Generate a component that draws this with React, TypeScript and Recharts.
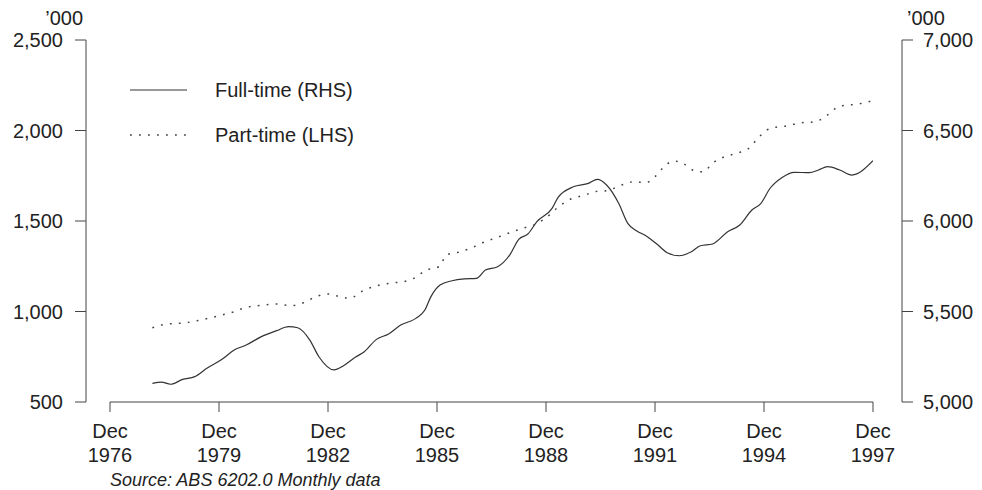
import React from "react";
import { LineChart, Line, XAxis, YAxis, ReferenceLine, Legend } from "recharts";

// Full-time employed ('000, right axis), trend
const fullTimeMonths = [
  "1978-02", "1978-05", "1978-08", "1978-12", "1979-04", "1979-08", "1980-01", "1980-05",
  "1980-09", "1981-02", "1981-07", "1981-11", "1982-02", "1982-06", "1982-09", "1983-02",
  "1983-05", "1983-09", "1983-12", "1984-04", "1984-08", "1984-12", "1985-05", "1985-08",
  "1985-10", "1986-01", "1986-05", "1986-09", "1987-01", "1987-04", "1987-08", "1987-12",
  "1988-03", "1988-06", "1988-09", "1989-02", "1989-04", "1989-09", "1990-02", "1990-05",
  "1990-08", "1990-12", "1991-03", "1991-06", "1991-09", "1992-01", "1992-04", "1992-08",
  "1992-12", "1993-03", "1993-07", "1993-12", "1994-04", "1994-08", "1994-11", "1995-02",
  "1995-06", "1995-10", "1996-03", "1996-06", "1996-09", "1997-01", "1997-05", "1997-12",
];
const fullTimeValues = [
  5103, 5110, 5098, 5125, 5140, 5186, 5236, 5287,
  5315, 5361, 5394, 5416, 5410, 5342, 5250, 5177,
  5199, 5247, 5278, 5346, 5376, 5425, 5462, 5508,
  5582, 5646, 5670, 5680, 5683, 5729, 5747, 5812,
  5899, 5928, 5996, 6070, 6131, 6189, 6208, 6230,
  6199, 6098, 5987, 5945, 5919, 5867, 5825, 5808,
  5830, 5863, 5873, 5941, 5978, 6061, 6098, 6181,
  6241, 6269, 6267, 6282, 6300, 6282, 6254, 6333,
];

// Part-time employed ('000, left axis)
const partTimeMonths = [
  "1978-02", "1978-06", "1979-01", "1979-07", "1980-01", "1980-05", "1980-08", "1981-03",
  "1981-07", "1981-12", "1982-04", "1982-08", "1982-12", "1983-03", "1983-07", "1983-12",
  "1984-04", "1984-10", "1985-01", "1985-05", "1985-08", "1986-01", "1986-03", "1986-07",
  "1986-11", "1987-04", "1987-08", "1988-01", "1988-05", "1988-08", "1988-12", "1989-04",
  "1989-08", "1990-01", "1990-04", "1990-08", "1991-01", "1991-05", "1991-09", "1991-12",
  "1992-03", "1992-06", "1992-08", "1993-01", "1993-04", "1993-07", "1993-11", "1994-03",
  "1994-07", "1994-10", "1995-01", "1995-05", "1995-08", "1995-11", "1996-05", "1996-09",
  "1997-01", "1997-07", "1997-12",
];
const partTimeValues = [
  910, 929, 938, 957, 981, 999, 1018, 1036,
  1041, 1032, 1049, 1082, 1097, 1086, 1073, 1119,
  1142, 1159, 1165, 1189, 1225, 1251, 1312, 1327,
  1349, 1386, 1410, 1441, 1463, 1478, 1518, 1576,
  1620, 1644, 1662, 1667, 1699, 1717, 1712, 1745,
  1800, 1830, 1828, 1778, 1772, 1819, 1855, 1874,
  1902, 1957, 2003, 2021, 2025, 2040, 2049, 2086,
  2135, 2146, 2165,
];

const xTickMonths = ["1976-12", "1979-12", "1982-12", "1985-12", "1988-12", "1991-12", "1994-12", "1997-12"];
const xTickLabels = ["Dec 1976", "Dec 1979", "Dec 1982", "Dec 1985", "Dec 1988", "Dec 1991", "Dec 1994", "Dec 1997"];
const leftTicks = [500, 1000, 1500, 2000, 2500];
const rightTicks = [5000, 5500, 6000, 6500, 7000];

const toYear = (m: string) => {
  const [y, mo] = m.split("-").map(Number);
  return y + (mo - 1) / 12;
};

const fullTimeData = fullTimeMonths.map((m, i) => ({ t: toYear(m), v: fullTimeValues[i] }));
const partTimeData = partTimeMonths.map((m, i) => ({ t: toYear(m), v: partTimeValues[i] }));
const xTicks = xTickMonths.map(toYear);

const textColor = "#222";
const axisColor = "#444";
const fmt = (v: number) => v.toLocaleString("en-US");

const XTick = ({ x, y, payload }: any) => {
  const idx = xTicks.findIndex((t) => Math.abs(t - payload.value) < 0.01);
  const [mon, yr] = (xTickLabels[idx] || "").split(" ");
  return (
    <text x={x} y={y} textAnchor="middle" fill={textColor} fontSize={20}>
      <tspan x={x} dy={26}>{mon}</tspan>
      <tspan x={x} dy={24}>{yr}</tspan>
    </text>
  );
};

const UnitLabel = ({ viewBox, side }: any) => {
  if (!viewBox) return null;
  const x = side === "left" ? viewBox.x + viewBox.width - 3 : viewBox.x + 5;
  return (
    <text x={x} y={viewBox.y - 15} textAnchor={side === "left" ? "end" : "start"} fontSize={20} fill={textColor}>
      ’000
    </text>
  );
};

const SourceLabel = ({ viewBox }: any) => {
  if (!viewBox) return null;
  return (
    <text x={viewBox.x + 24} y={viewBox.y + 84} fontSize={18} fontStyle="italic" fill={textColor}>
      Source: ABS 6202.0 Monthly data
    </text>
  );
};

const LegendContent = ({ payload }: any) => (
  <svg width={260} height={90}>
    {(payload || []).map((entry: any, i: number) => (
      <g key={i} transform={`translate(0, ${i * 45})`}>
        <line
          x1={10}
          x2={67}
          y1={20}
          y2={20}
          stroke={entry.color}
          strokeWidth={entry.payload?.strokeWidth || 1}
          strokeDasharray={entry.payload?.strokeDasharray}
        />
        <text x={95} y={26.5} fontSize={20} fill={textColor}>
          {entry.value}
        </text>
      </g>
    ))}
  </svg>
);

export default function App() {
  return (
    <div style={{ position: "absolute", left: 0, top: 0, fontFamily: "'Liberation Sans', Arial, sans-serif" }}>
      <LineChart width={982} height={490} margin={{ top: 40, right: 4, bottom: 28, left: 10 }}>
        <XAxis
          type="number"
          dataKey="t"
          domain={[xTicks[0], xTicks[xTicks.length - 1]]}
          ticks={xTicks}
          interval={0}
          allowDataOverflow
          padding={{ left: 24, right: 29 }}
          axisLine={false}
          tickLine={{ stroke: axisColor }}
          tickSize={10}
          tickMargin={0}
          tick={<XTick />}
          height={60}
          label={<SourceLabel />}
        />
        <YAxis
          yAxisId="left"
          orientation="left"
          domain={[500, 2500]}
          ticks={leftTicks}
          interval={0}
          width={76}
          tickSize={11}
          tickMargin={12}
          tickFormatter={fmt}
          tick={{ fill: textColor, fontSize: 20 }}
          axisLine={{ stroke: axisColor }}
          tickLine={{ stroke: axisColor }}
          label={<UnitLabel side="left" />}
        />
        <YAxis
          yAxisId="right"
          orientation="right"
          domain={[5000, 7000]}
          ticks={rightTicks}
          interval={0}
          width={76}
          tickSize={11}
          tickMargin={10}
          tickFormatter={fmt}
          tick={{ fill: textColor, fontSize: 20, textAnchor: "start" }}
          axisLine={{ stroke: axisColor }}
          tickLine={{ stroke: axisColor }}
          label={<UnitLabel side="right" />}
        />
        <ReferenceLine
          yAxisId="left"
          segment={[
            { x: xTicks[0], y: leftTicks[0] },
            { x: xTicks[xTicks.length - 1], y: leftTicks[0] },
          ]}
          stroke={axisColor}
        />
        <Line
          yAxisId="right"
          data={fullTimeData}
          dataKey="v"
          name="Full-time (RHS)"
          type="monotone"
          stroke="#333"
          strokeWidth={1.2}
          dot={false}
          isAnimationActive={false}
        />
        <Line
          yAxisId="left"
          data={partTimeData}
          dataKey="v"
          name="Part-time (LHS)"
          type="monotone"
          stroke="#444"
          strokeWidth={1.5}
          strokeDasharray="1.8 7.2"
          dot={false}
          isAnimationActive={false}
        />
        <Legend
          layout="vertical"
          align="center"
          verticalAlign="middle"
          wrapperStyle={{ left: 120, top: 70, width: 260, height: 90 }}
          content={<LegendContent />}
        />
      </LineChart>
    </div>
  );
}
